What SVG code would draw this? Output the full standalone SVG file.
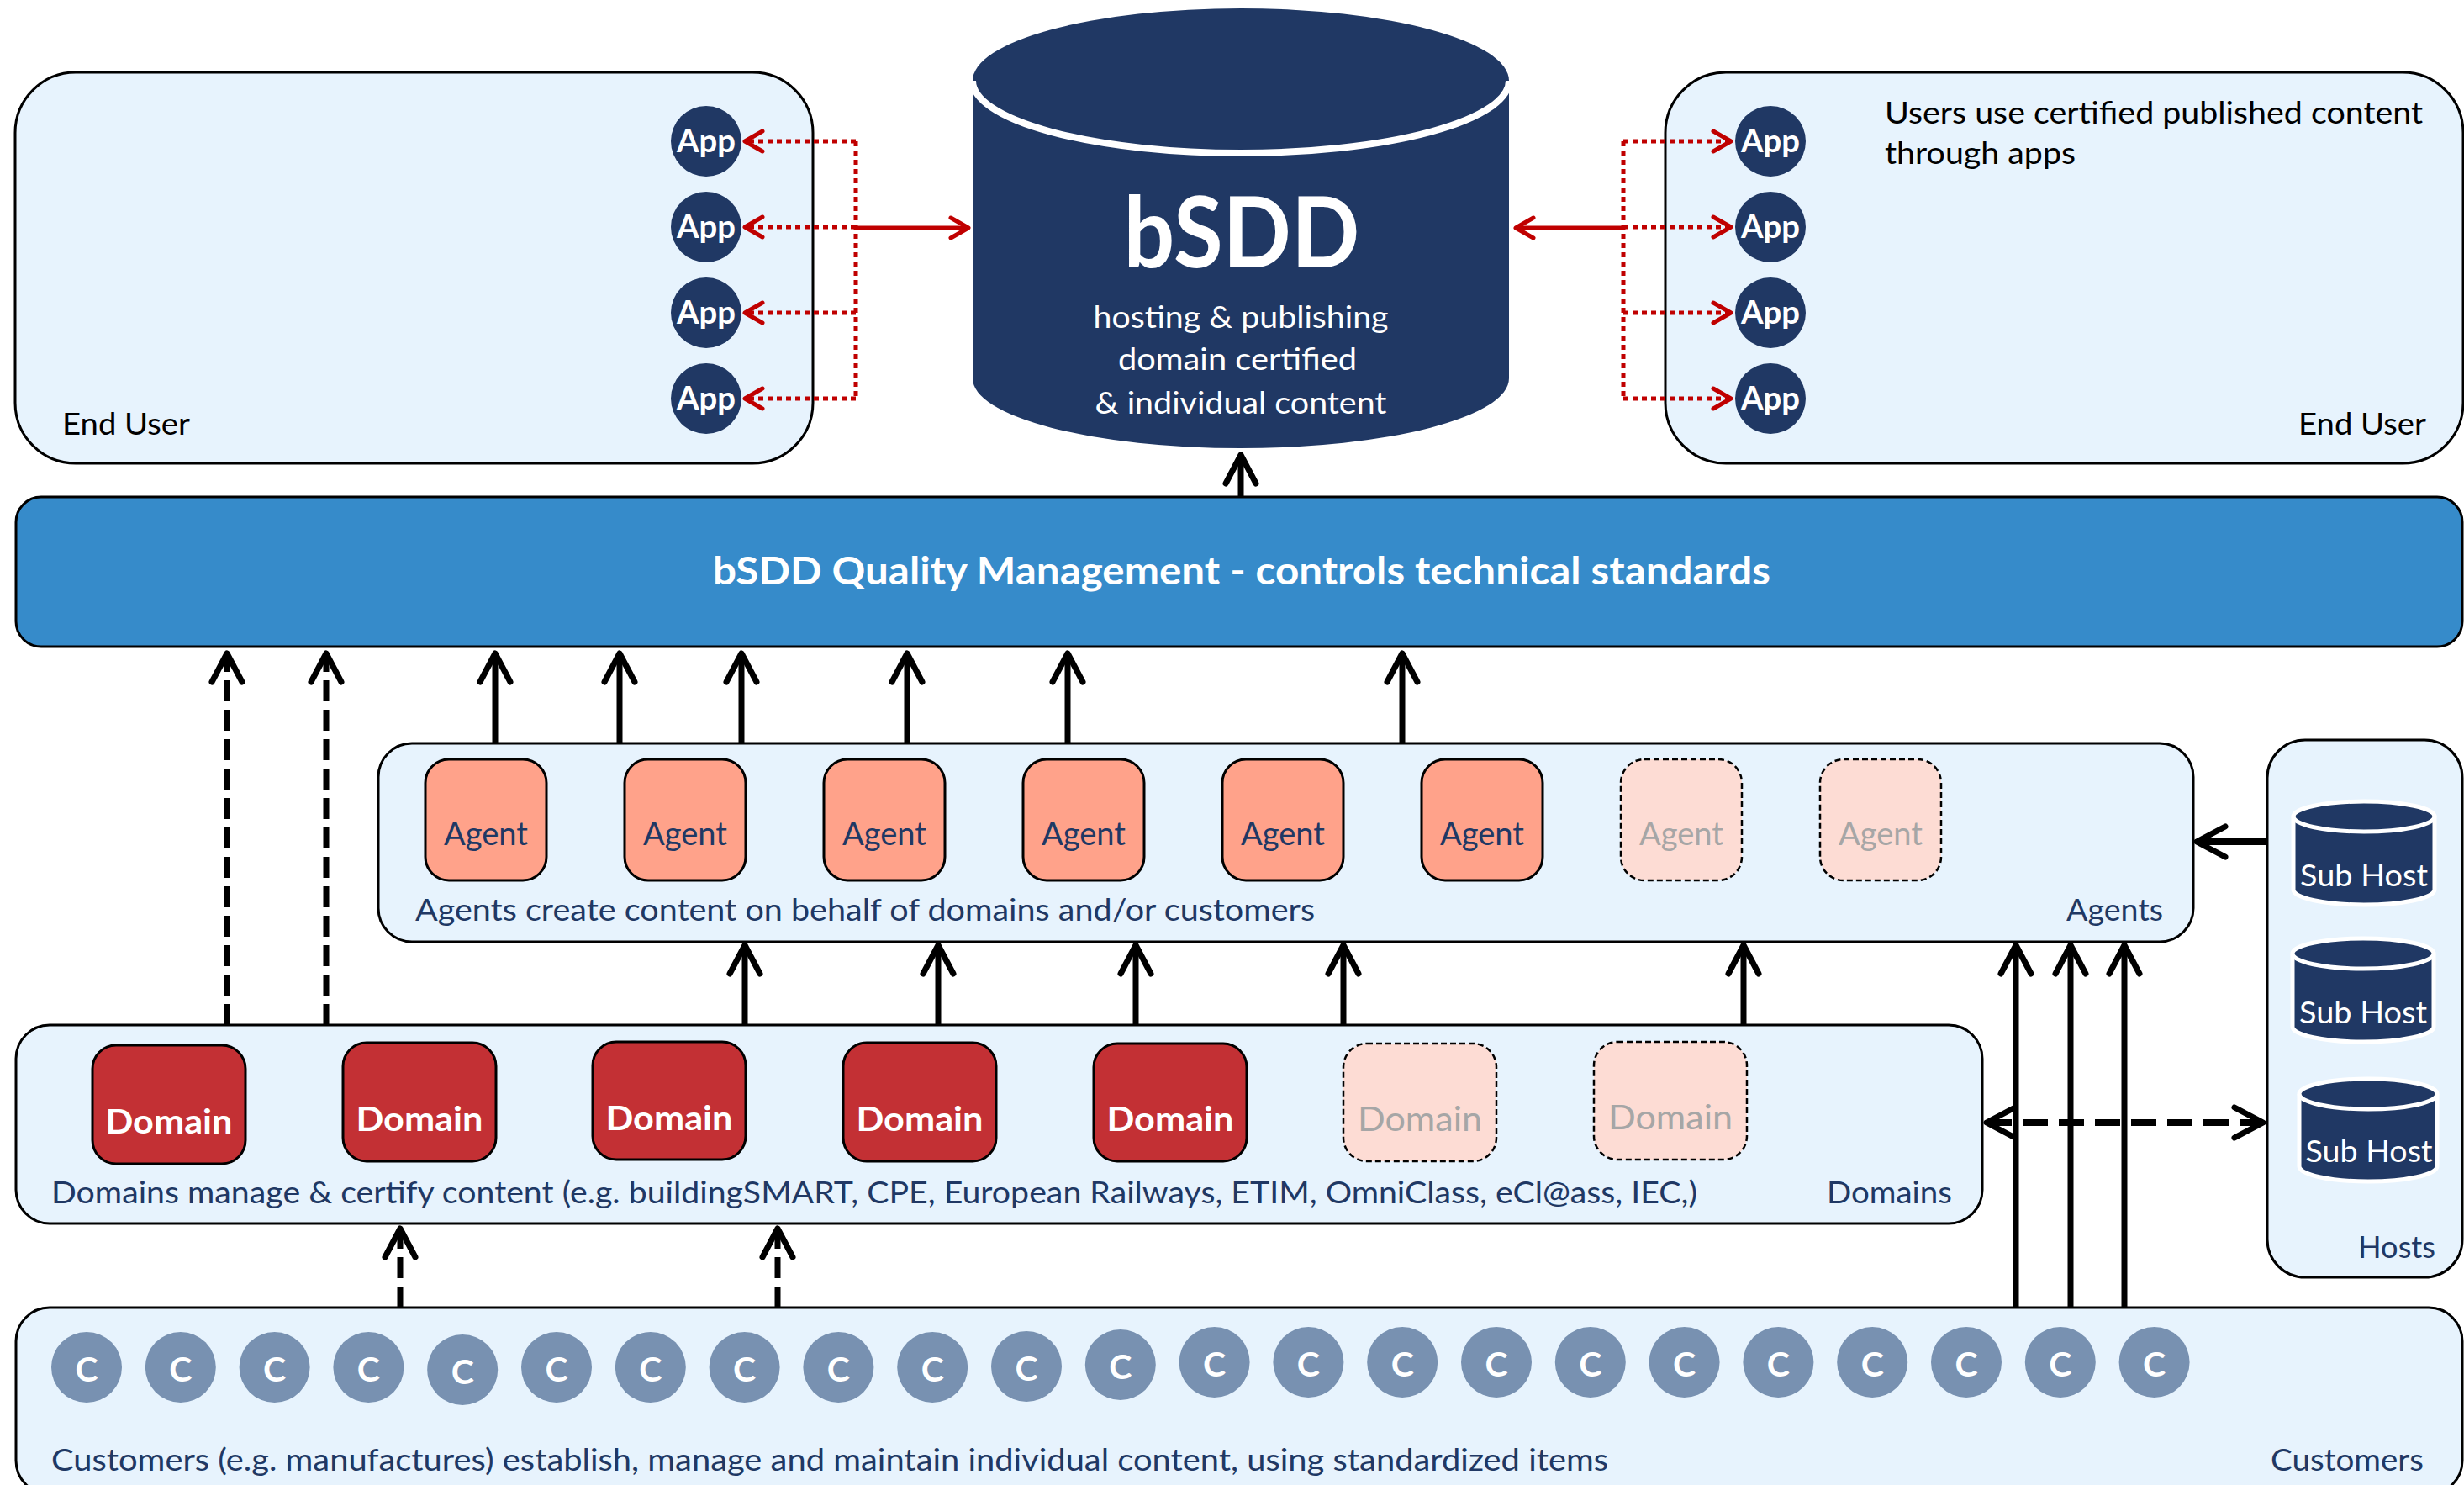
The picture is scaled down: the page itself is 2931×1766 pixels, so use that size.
<svg xmlns="http://www.w3.org/2000/svg" width="2931" height="1766" viewBox="0 0 2931 1766">
<defs>
<style>
text { font-family: Lato, "Open Sans", "Liberation Sans", sans-serif; }
.panel { fill:#E7F3FD; stroke:#000; stroke-width:3; }
.lbl { fill:#203864; font-size:36px; }
.blk { fill:#000; font-size:36px; }
.app circle { fill:#203864; }
.app text { fill:#fff; font-weight:700; font-size:38px; text-anchor:middle; }
.agent rect { fill:#FFA28A; stroke:#000; stroke-width:3; }
.agent text { fill:#203864; font-size:38px; text-anchor:middle; }
.domain rect { fill:#C33034; stroke:#000; stroke-width:3; }
.domain text { fill:#fff; font-weight:700; font-size:41px; text-anchor:middle; }
.ghost rect { fill:#FDDCD4; stroke:#000; stroke-width:2.5; stroke-dasharray:7 4; }
.ghost text { fill:#A6A6A6; font-weight:400; }
.cust circle { fill:#7891B1; }
.cust text { fill:#fff; font-weight:700; font-size:41px; text-anchor:middle; }
.sub path { fill:#203864; stroke:#fff; stroke-width:5; }
.sub path.rim { fill:none; }
.sub text { fill:#fff; font-size:37px; text-anchor:middle; }
.arr { stroke:#000; stroke-width:7; fill:none; }
.dash { stroke-dasharray:25 10; }
.red { stroke:#C00000; stroke-width:5; fill:none; }
.dot { stroke-dasharray:6 5; }
</style>
<marker id="ahB" viewBox="-50 -25 55 50" markerWidth="55" markerHeight="50" refX="0" refY="0" orient="auto-start-reverse" markerUnits="userSpaceOnUse" overflow="visible">
<path d="M-34,-18 L0,0 L-34,18" fill="none" stroke="#000" stroke-width="7" stroke-linecap="round" stroke-linejoin="round"/>
</marker>
<marker id="ahR" viewBox="-30 -15 34 30" markerWidth="34" markerHeight="30" refX="0" refY="0" orient="auto" markerUnits="userSpaceOnUse" overflow="visible">
<path d="M-21,-12 L0,0 L-21,12" fill="none" stroke="#C00000" stroke-width="5" stroke-linecap="round" stroke-linejoin="round"/>
</marker>
</defs>

<!-- End user panels -->
<g id="enduser-left">
<rect class="panel" x="18" y="86" width="949" height="465" rx="72"/>
<text class="blk" x="74" y="517" textLength="152" lengthAdjust="spacingAndGlyphs">End User</text>
</g>
<g id="enduser-right">
<rect class="panel" x="1981" y="86" width="949" height="465" rx="72"/>
<text class="blk" x="2242" y="147" textLength="640" lengthAdjust="spacingAndGlyphs">Users use certified published content</text>
<text class="blk" x="2242" y="195" textLength="227" lengthAdjust="spacingAndGlyphs">through apps</text>
<text class="blk" x="2734" y="517" textLength="152" lengthAdjust="spacingAndGlyphs">End User</text>
</g>

<g id="app-l1" class="app"><circle cx="840" cy="168" r="42"/><text x="840" y="181" textLength="70" lengthAdjust="spacingAndGlyphs">App</text></g>
<g id="app-l2" class="app"><circle cx="840" cy="270" r="42"/><text x="840" y="283" textLength="70" lengthAdjust="spacingAndGlyphs">App</text></g>
<g id="app-l3" class="app"><circle cx="840" cy="372" r="42"/><text x="840" y="385" textLength="70" lengthAdjust="spacingAndGlyphs">App</text></g>
<g id="app-l4" class="app"><circle cx="840" cy="474" r="42"/><text x="840" y="487" textLength="70" lengthAdjust="spacingAndGlyphs">App</text></g>
<g id="app-r1" class="app"><circle cx="2106" cy="168" r="42"/><text x="2106" y="181" textLength="70" lengthAdjust="spacingAndGlyphs">App</text></g>
<g id="app-r2" class="app"><circle cx="2106" cy="270" r="42"/><text x="2106" y="283" textLength="70" lengthAdjust="spacingAndGlyphs">App</text></g>
<g id="app-r3" class="app"><circle cx="2106" cy="372" r="42"/><text x="2106" y="385" textLength="70" lengthAdjust="spacingAndGlyphs">App</text></g>
<g id="app-r4" class="app"><circle cx="2106" cy="474" r="42"/><text x="2106" y="487" textLength="70" lengthAdjust="spacingAndGlyphs">App</text></g>

<!-- bSDD cylinder -->
<g id="bsdd">
<path d="M1157,96 A319,86 0 0,1 1795,96 L1795,450 A319,83 0 0,1 1157,450 Z" fill="#203864"/>
<path d="M1157,96 A319,86 0 0,0 1795,96" fill="none" stroke="#fff" stroke-width="8"/>
<text x="1477" y="318" fill="#fff" font-weight="700" font-size="116" text-anchor="middle" textLength="281" lengthAdjust="spacingAndGlyphs">bSDD</text>
<text x="1476" y="390" fill="#fff" font-size="37" text-anchor="middle" textLength="351" lengthAdjust="spacingAndGlyphs">hosting &amp; publishing</text>
<text x="1472" y="440" fill="#fff" font-size="37" text-anchor="middle" textLength="284" lengthAdjust="spacingAndGlyphs">domain certified</text>
<text x="1476" y="492" fill="#fff" font-size="37" text-anchor="middle" textLength="347" lengthAdjust="spacingAndGlyphs">&amp; individual content</text>
</g>

<!-- Quality management bar -->
<g id="quality">
<rect x="19" y="591" width="2910" height="178" rx="30" fill="#368BCA" stroke="#000" stroke-width="3"/>
<text x="1477" y="695" fill="#fff" font-weight="700" font-size="46" text-anchor="middle" textLength="1258" lengthAdjust="spacingAndGlyphs">bSDD Quality Management - controls technical standards</text>
</g>

<!-- Agents -->
<g id="agents">
<rect class="panel" x="450" y="884" width="2159" height="236" rx="40"/>
<text class="lbl" x="494" y="1095" textLength="1070" lengthAdjust="spacingAndGlyphs">Agents create content on behalf of domains and/or customers</text>
<text class="lbl" x="2458" y="1095" textLength="115" lengthAdjust="spacingAndGlyphs">Agents</text>
</g>
<g id="agent-1" class="agent"><rect x="506" y="903" width="144" height="144" rx="28"/><text x="578" y="1005" textLength="100" lengthAdjust="spacingAndGlyphs">Agent</text></g>
<g id="agent-2" class="agent"><rect x="743" y="903" width="144" height="144" rx="28"/><text x="815" y="1005" textLength="100" lengthAdjust="spacingAndGlyphs">Agent</text></g>
<g id="agent-3" class="agent"><rect x="980" y="903" width="144" height="144" rx="28"/><text x="1052" y="1005" textLength="100" lengthAdjust="spacingAndGlyphs">Agent</text></g>
<g id="agent-4" class="agent"><rect x="1217" y="903" width="144" height="144" rx="28"/><text x="1289" y="1005" textLength="100" lengthAdjust="spacingAndGlyphs">Agent</text></g>
<g id="agent-5" class="agent"><rect x="1454" y="903" width="144" height="144" rx="28"/><text x="1526" y="1005" textLength="100" lengthAdjust="spacingAndGlyphs">Agent</text></g>
<g id="agent-6" class="agent"><rect x="1691" y="903" width="144" height="144" rx="28"/><text x="1763" y="1005" textLength="100" lengthAdjust="spacingAndGlyphs">Agent</text></g>
<g id="agent-7" class="agent ghost"><rect x="1928" y="903" width="144" height="144" rx="28"/><text x="2000" y="1005" textLength="100" lengthAdjust="spacingAndGlyphs">Agent</text></g>
<g id="agent-8" class="agent ghost"><rect x="2165" y="903" width="144" height="144" rx="28"/><text x="2237" y="1005" textLength="100" lengthAdjust="spacingAndGlyphs">Agent</text></g>

<!-- Hosts -->
<g id="hosts">
<rect class="panel" x="2697" y="880" width="232" height="639" rx="45"/>
<text class="lbl" x="2805" y="1496" textLength="92" lengthAdjust="spacingAndGlyphs">Hosts</text>
</g>
<g id="subhost-1" class="sub">
<path d="M2728,971 A84,18 0 0,1 2896,971 L2896,1058 A84,18 0 0,1 2728,1058 Z"/>
<path class="rim" d="M2728,971 A84,18 0 0,0 2896,971"/>
<text x="2812" y="1054" textLength="152" lengthAdjust="spacingAndGlyphs">Sub Host</text>
</g>
<g id="subhost-2" class="sub">
<path d="M2727,1134 A84,18 0 0,1 2895,1134 L2895,1221 A84,18 0 0,1 2727,1221 Z"/>
<path class="rim" d="M2727,1134 A84,18 0 0,0 2895,1134"/>
<text x="2811" y="1217" textLength="152" lengthAdjust="spacingAndGlyphs">Sub Host</text>
</g>
<g id="subhost-3" class="sub">
<path d="M2735,1301 A82,18 0 0,1 2899,1301 L2899,1387 A82,18 0 0,1 2735,1387 Z"/>
<path class="rim" d="M2735,1301 A82,18 0 0,0 2899,1301"/>
<text x="2818" y="1382" textLength="151" lengthAdjust="spacingAndGlyphs">Sub Host</text>
</g>

<!-- Domains -->
<g id="domains">
<rect class="panel" x="19" y="1219" width="2339" height="236" rx="40"/>
<text class="lbl" x="61" y="1431" textLength="1958" lengthAdjust="spacingAndGlyphs">Domains manage &amp; certify content (e.g. buildingSMART, CPE, European Railways, ETIM, OmniClass, eCl@ass, IEC,)</text>
<text class="lbl" x="2173" y="1431" textLength="149" lengthAdjust="spacingAndGlyphs">Domains</text>
</g>
<g id="domain-1" class="domain"><rect x="110" y="1243" width="182" height="141" rx="28"/><text x="201" y="1348" textLength="151" lengthAdjust="spacingAndGlyphs">Domain</text></g>
<g id="domain-2" class="domain"><rect x="408" y="1240" width="182" height="141" rx="28"/><text x="499" y="1345" textLength="151" lengthAdjust="spacingAndGlyphs">Domain</text></g>
<g id="domain-3" class="domain"><rect x="705" y="1239" width="182" height="140" rx="28"/><text x="796" y="1344" textLength="151" lengthAdjust="spacingAndGlyphs">Domain</text></g>
<g id="domain-4" class="domain"><rect x="1003" y="1240" width="182" height="141" rx="28"/><text x="1094" y="1345" textLength="151" lengthAdjust="spacingAndGlyphs">Domain</text></g>
<g id="domain-5" class="domain"><rect x="1301" y="1241" width="182" height="140" rx="28"/><text x="1392" y="1345" textLength="151" lengthAdjust="spacingAndGlyphs">Domain</text></g>
<g id="domain-6" class="domain ghost"><rect x="1598" y="1241" width="182" height="140" rx="28"/><text x="1689" y="1345" textLength="148" lengthAdjust="spacingAndGlyphs">Domain</text></g>
<g id="domain-7" class="domain ghost"><rect x="1896" y="1239" width="182" height="140" rx="28"/><text x="1987" y="1343" textLength="148" lengthAdjust="spacingAndGlyphs">Domain</text></g>

<!-- Customers -->
<g id="customers">
<rect class="panel" x="19" y="1555" width="2910" height="222" rx="40"/>
<text class="lbl" x="61" y="1749" textLength="1852" lengthAdjust="spacingAndGlyphs">Customers (e.g. manufactures) establish, manage and maintain individual content, using standardized items</text>
<text class="lbl" x="2701" y="1749" textLength="182" lengthAdjust="spacingAndGlyphs">Customers</text>
</g>
<g id="c-1" class="cust"><circle cx="103" cy="1626" r="42"/><text x="103" y="1643">C</text></g>
<g id="c-2" class="cust"><circle cx="214.8" cy="1626" r="42"/><text x="214.8" y="1643">C</text></g>
<g id="c-3" class="cust"><circle cx="326.6" cy="1626" r="42"/><text x="326.6" y="1643">C</text></g>
<g id="c-4" class="cust"><circle cx="438.4" cy="1626" r="42"/><text x="438.4" y="1643">C</text></g>
<g id="c-5" class="cust"><circle cx="550.2" cy="1629" r="42"/><text x="550.2" y="1646">C</text></g>
<g id="c-6" class="cust"><circle cx="662" cy="1626" r="42"/><text x="662" y="1643">C</text></g>
<g id="c-7" class="cust"><circle cx="773.8" cy="1626" r="42"/><text x="773.8" y="1643">C</text></g>
<g id="c-8" class="cust"><circle cx="885.6" cy="1626" r="42"/><text x="885.6" y="1643">C</text></g>
<g id="c-9" class="cust"><circle cx="997.4" cy="1626" r="42"/><text x="997.4" y="1643">C</text></g>
<g id="c-10" class="cust"><circle cx="1109.2" cy="1626" r="42"/><text x="1109.2" y="1643">C</text></g>
<g id="c-11" class="cust"><circle cx="1221" cy="1625" r="42"/><text x="1221" y="1642">C</text></g>
<g id="c-12" class="cust"><circle cx="1332.8" cy="1623" r="42"/><text x="1332.8" y="1640">C</text></g>
<g id="c-13" class="cust"><circle cx="1444.6" cy="1620" r="42"/><text x="1444.6" y="1637">C</text></g>
<g id="c-14" class="cust"><circle cx="1556.4" cy="1620" r="42"/><text x="1556.4" y="1637">C</text></g>
<g id="c-15" class="cust"><circle cx="1668.2" cy="1620" r="42"/><text x="1668.2" y="1637">C</text></g>
<g id="c-16" class="cust"><circle cx="1780" cy="1620" r="42"/><text x="1780" y="1637">C</text></g>
<g id="c-17" class="cust"><circle cx="1891.8" cy="1620" r="42"/><text x="1891.8" y="1637">C</text></g>
<g id="c-18" class="cust"><circle cx="2003.6" cy="1620" r="42"/><text x="2003.6" y="1637">C</text></g>
<g id="c-19" class="cust"><circle cx="2115.4" cy="1620" r="42"/><text x="2115.4" y="1637">C</text></g>
<g id="c-20" class="cust"><circle cx="2227.2" cy="1620" r="42"/><text x="2227.2" y="1637">C</text></g>
<g id="c-21" class="cust"><circle cx="2339" cy="1620" r="42"/><text x="2339" y="1637">C</text></g>
<g id="c-22" class="cust"><circle cx="2450.8" cy="1620" r="42"/><text x="2450.8" y="1637">C</text></g>
<g id="c-23" class="cust"><circle cx="2562.6" cy="1620" r="42"/><text x="2562.6" y="1637">C</text></g>

<!-- Connectors -->
<g id="connectors">
<path class="red dot" d="M1018,168 V474"/>
<path class="red dot" d="M1018,168 H886" marker-end="url(#ahR)"/>
<path class="red dot" d="M1018,270 H886" marker-end="url(#ahR)"/>
<path class="red dot" d="M1018,372 H886" marker-end="url(#ahR)"/>
<path class="red dot" d="M1018,474 H886" marker-end="url(#ahR)"/>
<path class="red" d="M1018,271 H1152" marker-end="url(#ahR)"/>
<path class="red dot" d="M1931,168 V474"/>
<path class="red dot" d="M1931,168 H2059" marker-end="url(#ahR)"/>
<path class="red dot" d="M1931,270 H2059" marker-end="url(#ahR)"/>
<path class="red dot" d="M1931,372 H2059" marker-end="url(#ahR)"/>
<path class="red dot" d="M1931,474 H2059" marker-end="url(#ahR)"/>
<path class="red" d="M1931,271 H1803" marker-end="url(#ahR)"/>
<path class="arr" d="M1476,591 V541" marker-end="url(#ahB)"/>
<path class="arr" d="M589,884 V777" marker-end="url(#ahB)"/>
<path class="arr" d="M737,884 V777" marker-end="url(#ahB)"/>
<path class="arr" d="M882,884 V777" marker-end="url(#ahB)"/>
<path class="arr" d="M1079,884 V777" marker-end="url(#ahB)"/>
<path class="arr" d="M1270,884 V777" marker-end="url(#ahB)"/>
<path class="arr" d="M1668,884 V777" marker-end="url(#ahB)"/>
<path class="arr dash" d="M270,1219 V777" marker-end="url(#ahB)"/>
<path class="arr dash" d="M388,1219 V777" marker-end="url(#ahB)"/>
<path class="arr" d="M886,1219 V1124" marker-end="url(#ahB)"/>
<path class="arr" d="M1116,1219 V1124" marker-end="url(#ahB)"/>
<path class="arr" d="M1351,1219 V1124" marker-end="url(#ahB)"/>
<path class="arr" d="M1598,1219 V1124" marker-end="url(#ahB)"/>
<path class="arr" d="M2074,1219 V1124" marker-end="url(#ahB)"/>
<path class="arr dash" d="M476,1555 V1461" marker-end="url(#ahB)"/>
<path class="arr dash" d="M925,1555 V1461" marker-end="url(#ahB)"/>
<path class="arr" d="M2398,1555 V1124" marker-end="url(#ahB)"/>
<path class="arr" d="M2463,1555 V1124" marker-end="url(#ahB)"/>
<path class="arr" d="M2527,1555 V1124" marker-end="url(#ahB)"/>
<path class="arr" style="stroke-width:8" d="M2697,1001 H2613" marker-end="url(#ahB)"/>
<path class="arr" style="stroke-width:8;stroke-dasharray:30 13" d="M2363,1335 H2692" marker-start="url(#ahB)" marker-end="url(#ahB)"/>
</g>
</svg>
